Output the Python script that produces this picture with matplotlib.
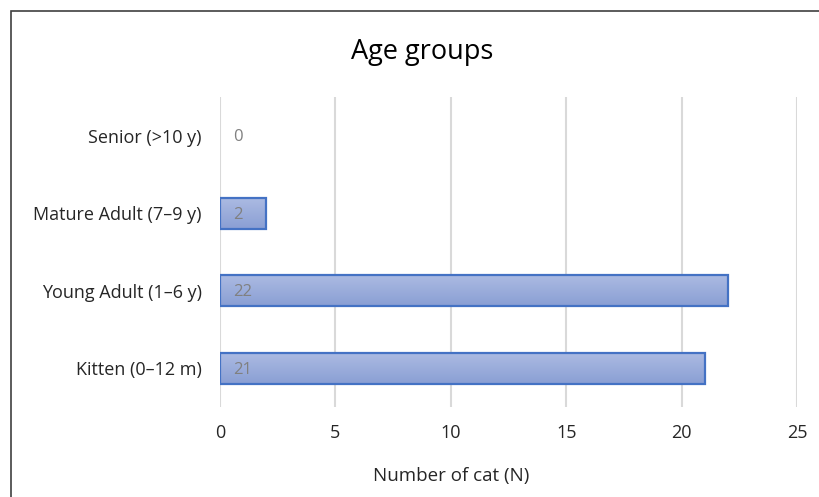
import numpy as np
import matplotlib
matplotlib.use("Agg")
import matplotlib.pyplot as plt
from matplotlib.patches import Rectangle

# age group data
groups = ["Kitten (0\u201312 m)", "Young Adult (1\u20136 y)", "Mature Adult (7\u20139 y)", "Senior (>10 y)"]
counts = [21, 22, 2, 0]
xticks = [0, 5, 10, 15, 20, 25]

plt.rcParams['font.family'] = ['Open Sans', 'DejaVu Sans']

fig = plt.figure(figsize=(8.19, 4.97), dpi=100)
ax = fig.add_axes([220/819, 1-407/497, 577/819, 310/497])

bars = ax.barh(groups, counts, height=0.4, color='none', edgecolor='#4472c4', linewidth=1.6, zorder=3)

# gradient fill for each bar
grad = np.linspace(0, 1, 50).reshape(-1, 1)
cmap = matplotlib.colors.LinearSegmentedColormap.from_list('g', ['#abbae2', '#8a9fd4'])
for b in bars:
    if b.get_width() <= 0:
        b.set_linewidth(0)
        continue
    x0, y0 = b.get_x(), b.get_y()
    im = ax.imshow(grad, cmap=cmap, aspect='auto', origin='lower',
                   extent=[x0, x0 + b.get_width(), y0 + b.get_height(), y0], zorder=2)
    im.set_clip_path(b)

for i, v in enumerate(counts):
    ax.annotate(str(v), (0, i), xytext=(9.5, -1), textcoords='offset points',
                ha='left', va='center', color='#808080', fontsize=12, zorder=4)

ax.set_xlim(0, 25)
ax.set_ylim(-0.5, 3.5)
ax.set_xticks(xticks)
ax.grid(axis='x', color='#d9d9d9', linewidth=1.5, zorder=0)
for s in ax.spines.values():
    s.set_visible(False)
ax.tick_params(axis='both', length=0, labelsize=13, colors='#262626')
ax.tick_params(axis='x', pad=12)
ax.tick_params(axis='y', pad=13)

fig.text(451/819, 1-476/497, "Number of cat (N)", ha='center', va='center', fontsize=13.5, color='#262626')
fig.text(422/819, 1-52/497, "Age groups", ha='center', va='center', fontsize=19.5, color='#000000')

# chart frame
fig.patches.append(Rectangle((11/819, -0.1), 1.2, 1.1 - 11/497, transform=fig.transFigure,
                             fill=False, edgecolor='#404040', linewidth=1.2))

fig.savefig("out.png", dpi=100)
